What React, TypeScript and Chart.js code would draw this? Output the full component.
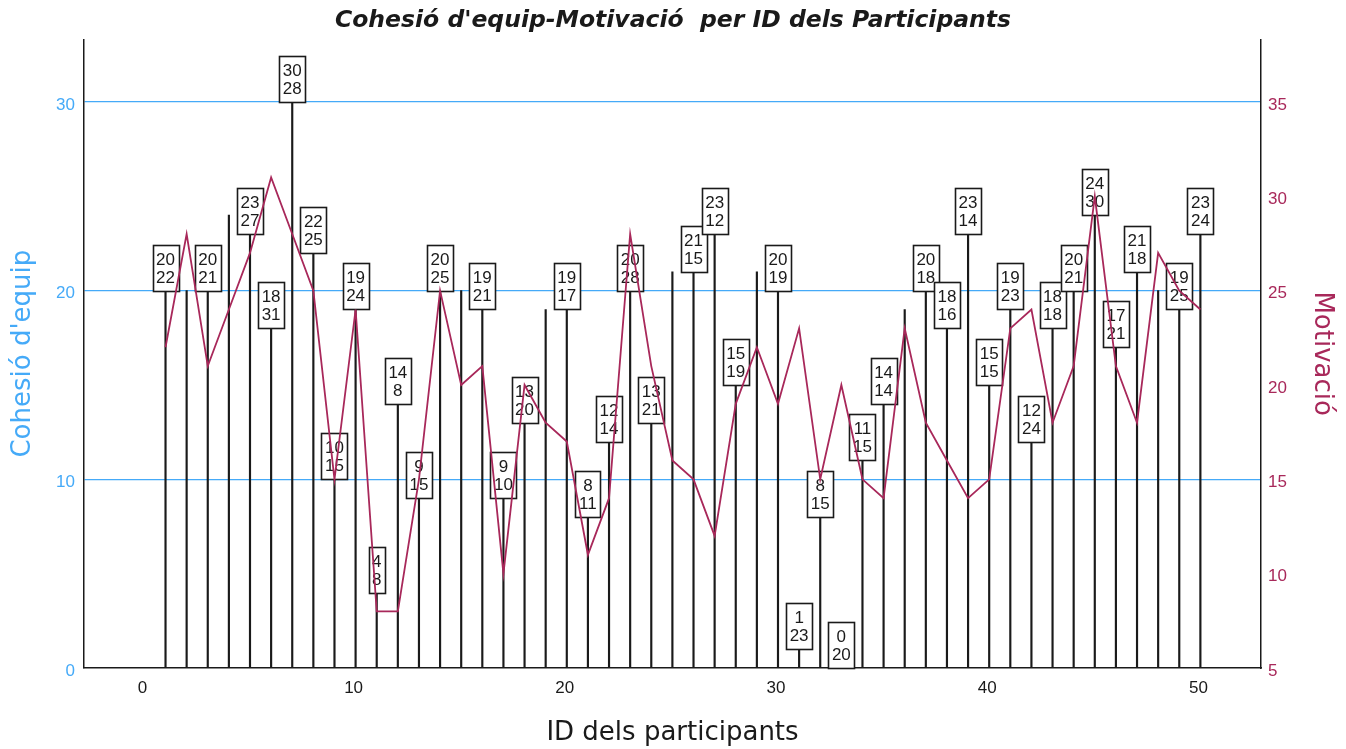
import React, { useEffect, useRef } from 'react';
import { Chart, registerables } from 'chart.js';

Chart.register(...registerables);

const participantIds = [
  1, 2, 3, 4, 5, 6, 7, 8, 9, 10, 11, 12, 13, 14, 15, 16, 17, 18, 19, 20, 21, 22, 23, 24, 25,
  26, 27, 28, 29, 30, 31, 32, 33, 34, 35, 36, 37, 38, 39, 40, 41, 42, 43, 44, 45, 46, 47, 48, 49, 50,
];
const cohesion = [
  20, 20, 20, 24, 23, 18, 30, 22, 10, 19, 4, 14, 9, 20, 20, 19, 9, 13, 19, 19, 8, 12, 20, 13, 21,
  21, 23, 15, 21, 20, 1, 8, 0, 11, 14, 19, 20, 18, 23, 15, 19, 12, 18, 20, 24, 17, 21, 20, 19, 23,
];
const motivation = [
  22, 28, 21, 24, 27, 31, 28, 25, 15, 24, 8, 8, 15, 25, 20, 21, 10, 20, 18, 17, 11, 14, 28, 21, 16,
  15, 12, 19, 22, 19, 23, 15, 20, 15, 14, 23, 18, 16, 14, 15, 23, 24, 18, 21, 30, 21, 18, 27, 25, 24,
];
const unlabeledIds = [2, 4, 15, 19, 25, 29, 36, 48];
const xTicks = [0, 10, 20, 30, 40, 50];
const leftTicks = [0, 10, 20, 30];
const rightTicks = [5, 10, 15, 20, 25, 30, 35];

const BLUE = '#45AAF8';
const MAROON = '#A8285A';
const INK = '#1a1a1a';

const labelPlugin = {
  id: 'idLabels',
  afterDatasetDraw(chart: any, args: any) {
    if (args.index !== 0) return;
    const xs = chart.scales.x;
    const ys = chart.scales.y;
    const ctx = chart.ctx;
    ctx.save();
    ctx.font = '17px "Liberation Sans", Arial, sans-serif';
    ctx.textAlign = 'center';
    ctx.textBaseline = 'middle';
    participantIds.forEach((id, i) => {
      if (unlabeledIds.includes(id)) return;
      const px = xs.getPixelForValue(id);
      const py = ys.getPixelForValue(cohesion[i]);
      const t1 = String(cohesion[i]);
      const t2 = String(motivation[i]);
      const w = Math.round(Math.max(ctx.measureText(t1).width, ctx.measureText(t2).width) + 7);
      const h = 46;
      const left = Math.round(px - w / 2) + 0.5;
      const top = Math.round(py - h) + 0.5;
      ctx.fillStyle = '#ffffff';
      ctx.fillRect(left, top, w, h);
      ctx.strokeStyle = INK;
      ctx.lineWidth = 1.6;
      ctx.strokeRect(left, top, w, h);
      ctx.fillStyle = INK;
      ctx.fillText(t1, px, top + 14.5);
      ctx.fillText(t2, px, top + 32.5);
    });
    ctx.restore();
  },
};

export default function App() {
  const canvasRef = useRef<HTMLCanvasElement | null>(null);

  useEffect(() => {
    if (!canvasRef.current) return;
    const chart = new Chart(canvasRef.current, {
      type: 'bar',
      data: {
        datasets: [
          {
            type: 'bar',
            label: "Cohesió d'equip",
            data: participantIds.map((id, i) => ({ x: id, y: cohesion[i] })),
            backgroundColor: INK,
            barThickness: 1.5,
            xAxisID: 'x',
            yAxisID: 'y',
            order: 1,
          },
          {
            type: 'line',
            label: 'Motivació',
            data: participantIds.map((id, i) => ({ x: id, y: motivation[i] })),
            borderColor: MAROON,
            borderWidth: 1.8,
            pointRadius: 0,
            tension: 0,
            fill: false,
            xAxisID: 'x',
            yAxisID: 'y1',
            order: 0,
          },
        ] as any,
      },
      options: {
        animation: false,
        responsive: false,
        devicePixelRatio: 1,
        layout: { padding: 0 },
        plugins: {
          legend: { display: false },
          tooltip: { enabled: false },
          title: {
            display: true,
            text: "Cohesió d'equip-Motivació  per ID dels Participants",
            color: INK,
            font: { family: '"DejaVu Sans", Verdana, sans-serif', size: 23.5, weight: 'bold', style: 'italic' },
            padding: { top: 7, bottom: 4.1 },
          },
        },
        scales: {
          x: {
            type: 'linear',
            position: 'bottom',
            min: -2.86,
            max: 52.87,
            offset: false,
            grid: { display: false, offset: false, drawTicks: false },
            border: { display: true, color: INK, width: 1.5 },
            afterBuildTicks: (axis: any) => {
              axis.ticks = xTicks.map((v) => ({ value: v }));
            },
            afterFit: (axis: any) => {
              axis.height = 81;
            },
            ticks: {
              color: INK,
              padding: 10,
              labelOffset: -2,
              maxRotation: 0,
              font: { family: '"Liberation Sans", Arial, sans-serif', size: 17 },
            },
            title: {
              display: true,
              text: 'ID dels participants',
              color: INK,
              font: { family: '"DejaVu Sans", Verdana, sans-serif', size: 26 },
              padding: { top: 0, bottom: 0 },
            },
          },
          y: {
            type: 'linear',
            position: 'left',
            min: 0,
            max: 33.32,
            grid: {
              drawTicks: false,
              lineWidth: 1.3,
              color: (c: any) => (c.tick && c.tick.value === 0 ? 'rgba(0,0,0,0)' : BLUE),
            },
            border: { display: true, color: INK, width: 1.5 },
            afterBuildTicks: (axis: any) => {
              axis.ticks = leftTicks.map((v) => ({ value: v }));
            },
            afterFit: (axis: any) => {
              axis.width = 84;
            },
            ticks: {
              color: BLUE,
              padding: 9,
              labelOffset: 3,
              font: { family: '"Liberation Sans", Arial, sans-serif', size: 17 },
            },
            title: {
              display: true,
              text: "Cohesió d'equip",
              color: BLUE,
              font: { family: '"DejaVu Sans", Verdana, sans-serif', size: 26 },
              padding: { top: 7.4, bottom: 0 },
            },
          },
          y1: {
            type: 'linear',
            position: 'right',
            min: 5,
            max: 38.32,
            grid: { display: false, drawTicks: false },
            border: { display: true, color: INK, width: 1.5 },
            afterBuildTicks: (axis: any) => {
              axis.ticks = rightTicks.map((v) => ({ value: v }));
            },
            afterFit: (axis: any) => {
              axis.width = 85;
            },
            ticks: {
              color: MAROON,
              padding: 7,
              labelOffset: 3,
              font: { family: '"Liberation Sans", Arial, sans-serif', size: 17 },
            },
            title: {
              display: true,
              text: 'Motivació',
              color: MAROON,
              font: { family: '"DejaVu Sans", Verdana, sans-serif', size: 26 },
              padding: { top: 8.4, bottom: 0 },
            },
          },
        },
      } as any,
      plugins: [labelPlugin],
    });
    return () => chart.destroy();
  }, []);

  return (
    <div style={{ position: 'fixed', left: 0, top: 0, width: 1346, height: 749, background: '#ffffff' }}>
      <canvas ref={canvasRef} width={1346} height={749} style={{ width: 1346, height: 749, display: 'block' }} />
    </div>
  );
}
